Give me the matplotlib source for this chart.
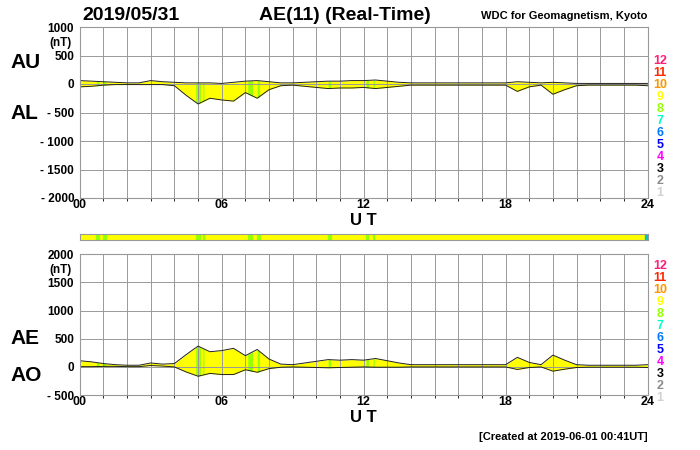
import numpy as np
import matplotlib
matplotlib.use("Agg")
import matplotlib.pyplot as plt

plt.rcParams['font.family'] = ['Liberation Sans', 'DejaVu Sans']
plt.rcParams['font.weight'] = 'bold'

# half-hourly readings, UT hours 0..24
hours = np.arange(0, 24.01, 0.5)
au = [60, 50, 40, 30, 20, 20, 60, 40, 30, 20, 20, 20, 10, 30, 50, 60, 40, 20, 20, 30,
      40, 50, 50, 60, 60, 70, 50, 30, 20, 20, 20, 20, 20, 20, 20, 20, 20, 40, 30, 20,
      30, 20, 10, 10, 10, 10, 10, 10, 10]
al = [-50, -40, -20, -10, -10, -10, -10, -10, -30, -200, -350, -250, -280, -300, -150, -250, -100, -30, -20, -40,
      -60, -80, -70, -70, -60, -80, -60, -40, -20, -20, -20, -20, -20, -20, -20, -20, -20, -130, -50, -20,
      -180, -100, -30, -20, -20, -20, -20, -20, -30]
# intervals where fewer stations (8) were used
green_spans = [(0.7, 0.8), (1.0, 1.1), (4.9, 5.1), (5.2, 5.25), (7.1, 7.3), (7.5, 7.6),
               (10.5, 10.6), (12.1, 12.2), (12.4, 12.45)]

level_labels = ['12', '11', '10', '9', '8', '7', '6', '5', '4', '3', '2', '1']
level_colors = ['#ff1e78', '#ff2800', '#ff9600', '#ffff00', '#96ff00', '#00ffc8', '#0078ff',
                '#0000ff', '#ff00ff', '#000000', '#8c8c8c', '#d2d2d2']

au = np.array(au)
al = np.array(al)
ae = au - al
ao = (au + al) / 2

fig = plt.figure(figsize=(7, 4.5), dpi=100)
ax1 = fig.add_axes([0.114, 0.56, 0.811, 0.38])
ax2 = fig.add_axes([0.114, 0.122, 0.811, 0.313])
strip = fig.add_axes([0.114, 0.467, 0.811, 0.013])


def fill_with_spans(ax, upper, lower):
    ax.fill_between(hours, lower, upper, color='#ffff00', lw=0)
    for a, b in green_spans:
        xs = np.linspace(a, b, 10)
        ax.fill_between(xs, np.interp(xs, hours, lower), np.interp(xs, hours, upper),
                        color='#96ff00', lw=0)
    ax.plot(hours, upper, color='#222222', lw=0.7)
    ax.plot(hours, lower, color='#222222', lw=0.7)


def level_legend(top_px):
    for i, (lab, c) in enumerate(zip(level_labels, level_colors)):
        fig.text(660 / 700, 1 - (top_px + i * 12) / 450, lab, color=c,
                 fontsize=9, ha='center', va='center', fontweight='bold')


for ax in (ax1, ax2):
    ax.set_xlim(0, 24)
    ax.set_xticks(np.arange(0, 25, 6))
    ax.set_xticks(np.arange(0, 25, 1), minor=True)
    ax.set_xticklabels(['00', '06', '12', '18', '24'], fontsize=9, fontweight='bold')
    ax.grid(True, which='both', axis='x', color='#999999', lw=0.7)
    ax.grid(True, which='major', axis='y', color='#999999', lw=0.7)
    ax.tick_params(length=0, pad=1)
    ax.tick_params(axis='y', pad=4)
    for s in ax.spines.values():
        s.set_color('#999999')
    ax.set_xlabel('U T', fontsize=12, fontweight='bold', labelpad=1)

fill_with_spans(ax1, au, al)
ax1.set_ylim(-2000, 1000)
ax1.set_yticks([-2000, -1500, -1000, -500, 0, 500, 1000])
ax1.set_yticklabels(['- 2000', '- 1500', '- 1000', '- 500', '0', '500', '1000'],
                    fontsize=8.5, fontweight='bold')
fill_with_spans(ax2, ae, ao)
ax2.set_ylim(-500, 2000)
ax2.set_yticks([-500, 0, 500, 1000, 1500, 2000])
ax2.set_yticklabels(['- 500', '0', '500', '1000', '1500', '2000'],
                    fontsize=8.5, fontweight='bold')
ax1.text(-0.015, 0.905, '(nT)', transform=ax1.transAxes, ha='right', va='center',
         fontsize=8.5, fontweight='bold')
ax2.text(-0.015, 0.885, '(nT)', transform=ax2.transAxes, ha='right', va='center',
         fontsize=8.5, fontweight='bold')
level_legend(61)
level_legend(266)

strip.set_xlim(0, 24)
strip.axvspan(0, 24, color='#ffff00')
for a, b in green_spans:
    strip.axvspan(a, b, color='#96ff00')
strip.axvspan(23.9, 24, color='#00c8c8')
strip.set_xticks([])
strip.set_yticks([])
for s in strip.spines.values():
    s.set_color('#999999')

fig.text(0.117, 0.965, '2019/05/31', fontsize=14, fontweight='bold', va='center')
fig.text(0.37, 0.965, 'AE(11) (Real-Time)', fontsize=14, fontweight='bold', va='center')
fig.text(0.925, 0.965, 'WDC for Geomagnetism, Kyoto', fontsize=8, ha='right', va='center')
fig.text(0.015, 0.862, 'AU', fontsize=15, fontweight='bold', va='center')
fig.text(0.015, 0.747, 'AL', fontsize=15, fontweight='bold', va='center')
fig.text(0.015, 0.247, 'AE', fontsize=15, fontweight='bold', va='center')
fig.text(0.015, 0.165, 'AO', fontsize=15, fontweight='bold', va='center')
fig.text(0.925, 0.03, '[Created at 2019-06-01 00:41UT]', fontsize=8, ha='right', va='center')

fig.savefig('out.png', dpi=100)
